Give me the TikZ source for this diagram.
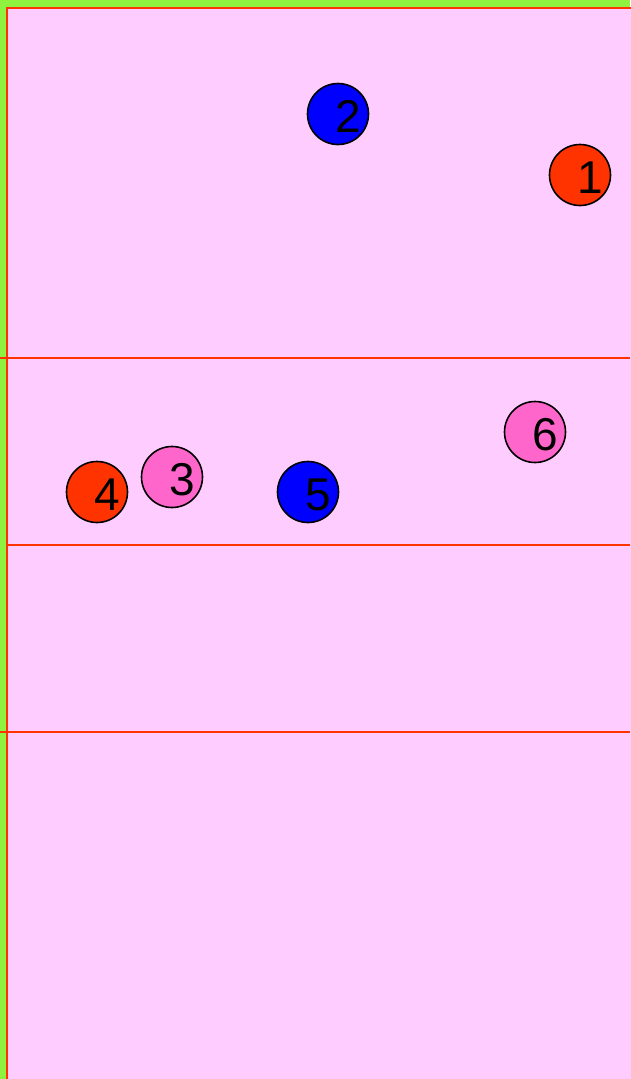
\documentclass[tikz,border=0pt]{standalone}
\usepackage{fontspec}
\setmainfont{Liberation Sans}
\usetikzlibrary{calc}

\definecolor{fieldgreen}{HTML}{8EF23E}
\definecolor{courtpink}{HTML}{FFCCFF}
\definecolor{courtline}{HTML}{FF3300}
\definecolor{teamred}{HTML}{FF3300}
\definecolor{teamblue}{HTML}{0000FF}
\definecolor{teampink}{HTML}{FF66CC}

\begin{document}
\begin{tikzpicture}[
      x=1pt, y=-1pt,
      line/.style={draw=courtline, line width=2pt},
      player/.style={circle, draw=black, line width=1.6pt, minimum size=61pt, inner sep=0pt},
      num/.style={anchor=base west, inner sep=0pt, font=\fontsize{46}{46}\selectfont}
]
\useasboundingbox (0,0) rectangle (630,1079);
\fill[fieldgreen] (0,0) rectangle (630,1079);
\fill[courtpink] (7,8) rectangle (640,1090);
\draw[line] (7,1090) -- (7,8) -- (640,8);

% zone lines
\coordinate (l1) at (0,358);
\coordinate (r1) at (630,358);
\coordinate (l2) at (7,545);
\coordinate (r2) at (630,545);
\coordinate (l3) at (0,732);
\coordinate (r3) at (630,732);
\draw[line] (l1) -- (r1);
\draw[line] (l2) -- (r2);
\draw[line] (l3) -- (r3);

% players
\node[player, fill=teamred]  (p1) at (580,175) {};
\node[player, fill=teamblue] (p2) at (338,114) {};
\node[player, fill=teampink] (p3) at (172,477) {};
\node[player, fill=teamred]  (p4) at (97,492) {};
\node[player, fill=teamblue] (p5) at (308,492) {};
\node[player, fill=teampink] (p6) at (535,432) {};

\node[num] (n1) at ($(p1.center)+(-3,18)$) {1};
\node[num] (n2) at ($(p2.center)+(-3,18)$) {2};
\node[num] (n3) at ($(p3.center)+(-3,18)$) {3};
\node[num] (n4) at ($(p4.center)+(-3,18)$) {4};
\node[num] (n5) at ($(p5.center)+(-3,18)$) {5};
\node[num] (n6) at ($(p6.center)+(-3,18)$) {6};
\end{tikzpicture}
\end{document}
